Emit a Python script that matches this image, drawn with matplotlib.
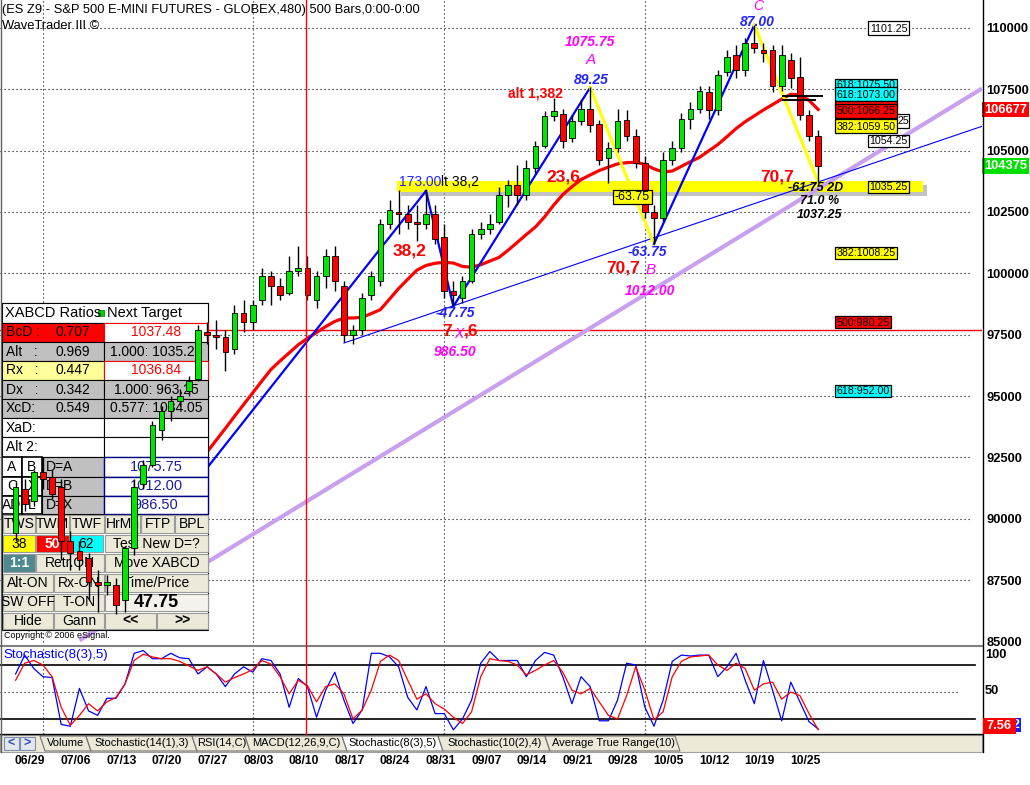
import matplotlib
matplotlib.use("Agg")
import matplotlib.pyplot as plt
from matplotlib.transforms import Affine2D, blended_transform_factory
from matplotlib.patches import Rectangle, Polygon
from matplotlib.lines import Line2D
import numpy as np

plt.rcParams['font.family'] = ['Liberation Sans', 'DejaVu Sans']

# ---------------- data ----------------
week_labels = ["06/29", "07/06", "07/13", "07/20", "07/27", "08/03", "08/10", "08/17", "08/24",
               "08/31", "09/07", "09/14", "09/21", "09/28", "10/05", "10/12", "10/19", "10/25"]
week_first_day = [1, 6, 11, 16, 21, 26, 31, 36, 41, 46, 51, 56, 61, 66, 71, 76, 81, 86]
month_first_day = [3, 26, 47, 69]

opens = [894, 912, 907, 919, 917, 913, 891, 887, 884, 874, 873, 873, 867, 888, 914, 922, 936, 944, 948, 952,
         957, 976, 975, 974, 969, 984, 980, 989, 999, 995, 992, 1001, 1002, 989, 999, 1007, 995, 975, 977, 991,
         997, 1020, 1025, 1024, 1021, 1020, 1024, 1015, 993, 990, 997, 1016, 1018, 1021, 1032, 1036, 1032, 1043, 1052, 1064,
         1065, 1055, 1062, 1067, 1061, 1047, 1051, 1062.5, 1056, 1045, 1025, 1022.5, 1046, 1051, 1063, 1067, 1074, 1066.5, 1082, 1089,
         1083, 1094, 1091, 1091, 1076.5, 1087, 1080, 1064.5, 1056]
highs = [915, 916, 920, 925, 920, 916, 895, 891, 886, 879, 877, 876, 889, 916, 924, 940, 946, 950, 953, 958,
         979, 980, 981, 977, 987, 989, 989, 1002, 1001, 998, 1007, 1011, 1007, 1001, 1010, 1011, 997, 979, 992, 1001,
         1022, 1030, 1034, 1028, 1028, 1033.6, 1028, 1020, 997, 999, 1018, 1021, 1024, 1035, 1038, 1044, 1046, 1054, 1066, 1071.5,
         1067, 1064.5, 1071, 1075.75, 1062.5, 1053.5, 1067, 1066.5, 1059, 1048, 1028, 1049.5, 1054, 1065.5, 1070, 1076.5, 1076.5, 1083, 1091, 1093,
         1096, 1101.25, 1094, 1093, 1093, 1090, 1088, 1066.5, 1058.5]
lows = [891, 903, 905, 912, 908, 883, 879, 879, 867, 862, 869, 861, 862, 885, 912, 921, 932, 940, 946, 950,
        956, 971, 969, 960, 967, 976, 977, 987, 987, 989, 991, 999, 989, 986, 994, 993, 972, 971, 975, 989,
        995, 1018, 1016, 1018, 1013, 1018, 1012, 990, 986.5, 988, 996, 1014, 1016, 1020, 1027, 1028, 1030, 1041, 1051, 1062,
        1051, 1053.5, 1060.5, 1057.5, 1044, 1037, 1049.5, 1054, 1043, 1022.5, 1012, 1021.5, 1044, 1049.5, 1059, 1065.5, 1063, 1064.5, 1080.5, 1079.5,
        1080.5, 1090, 1086, 1074, 1074.5, 1075.5, 1062.5, 1054, 1037.25]
closes = [913, 906, 919, 916, 910, 891, 886, 883, 874, 873, 874, 865, 888, 913, 922, 938, 944, 948, 950, 956,
          977, 975, 974, 968, 984, 980, 987, 999, 995, 991, 1001, 1002, 991, 999, 1007, 997, 975, 977, 990, 999,
          1020, 1026, 1024, 1021, 1020, 1024, 1014, 993, 991, 997, 1016, 1018, 1020, 1032, 1036, 1032, 1043, 1052, 1064, 1066,
          1054, 1062, 1067, 1060.5, 1046, 1051, 1062, 1056, 1045, 1025, 1022.5, 1046, 1051, 1063, 1067, 1074.5, 1066.5, 1081, 1088, 1083,
          1094, 1092, 1090, 1076.5, 1089, 1079.5, 1064.5, 1056, 1043.75]

ma_first_day = 21
ma_values = [927.2, 932.0, 936.8, 941.7, 946.5, 951.3, 956.1, 960.8, 964.3, 967.6,
             970.9, 973.5, 975.9, 978.3, 980.4, 981.8, 981.8, 982.1, 983.6, 985.2,
             989.5, 993.8, 997.6, 1001.3, 1003.2, 1004.1, 1004.5, 1004.2, 1002.8, 1002.5,
             1003.5, 1005.0, 1006.5, 1009.4, 1012.6, 1015.8, 1018.9, 1023.0, 1027.8, 1032.1,
             1035.3, 1038.2, 1040.1, 1041.9, 1043.3, 1044.6, 1045.1, 1045.3, 1044.4, 1042.6,
             1041.3, 1041.7, 1043.6, 1045.5, 1047.3, 1049.9, 1052.5, 1055.7, 1059.0, 1061.8,
             1064.2, 1066.6, 1068.8, 1071.0, 1073.0, 1072.7, 1070.5, 1066.8]
last_ma = 1066.77

pivot_days = [19, 45, 48, 63, 70, 81, 88]
pivot_prices = [911.3, 1033.6, 986.5, 1075.75, 1012.0, 1101.25, 1037.25]
leg_colors = ['#0000FF', '#0000FF', '#0000FF', '#FFFF00', '#0000FF', '#FFFF00']

trend_days = [36, 88]
trend_prices = [971.6, 1037.25]
channel_days = [11, 70]
channel_prices = [859.5, 993.6]
channel_start_day = 7
red_level = 976.9
band_level = 1035.25

stoch_k = [70, 91, 76, 67, 66, 14, 12, 54, 29, 24,
           43, 43, 59, 93, 96, 87, 87, 93, 88, 87,
           70, 78, 70, 56, 70, 78, 72, 87, 85, 70,
           33, 65, 56, 22, 52, 72, 41, 15, 30, 93,
           93, 89, 78, 44, 30, 56, 26, 26, 8, 20,
           41, 82, 95, 85, 85, 85, 67, 85, 94, 91,
           67, 37, 67, 56, 18, 18, 41, 82, 80, 33,
           12, 41, 84, 91, 90, 91, 91, 67, 78, 93,
           63, 37, 85, 52, 18, 61, 39, 17, 9]
stoch_d = [63, 82, 85, 80, 67, 33, 13, 24, 37, 29,
           39, 44, 59, 85, 92, 89, 87, 87, 84, 79,
           74, 78, 70, 61, 66, 70, 75, 85, 81, 67,
           48, 63, 57, 39, 56, 59, 48, 20, 30, 52,
           84, 91, 85, 63, 42, 48, 37, 31, 22, 15,
           28, 67, 87, 85, 84, 80, 69, 74, 80, 85,
           72, 52, 48, 54, 39, 24, 20, 46, 78, 52,
           19, 28, 67, 84, 89, 90, 91, 80, 74, 82,
           76, 52, 59, 61, 42, 50, 46, 26, 8]
stoch_last = "7.56"

price_ticks = [850, 875, 900, 925, 950, 975, 1000, 1025, 1050, 1075, 1100]

ratio_names = ["BcD :", "Alt   :", "Rx   :", "Dx   :", "XcD:", "XaD:", "Alt 2:"]
ratio_values = ["0.707", "0.969", "0.447", "0.342", "0.549", "", ""]
ratio_targets = ["1037.48", "1.000: 1035.25", "1036.84", "1.000: 963.25", "0.577: 1034.05", "", ""]
point_targets = ["1075.75", "1012.00", "986.50"]

# ---------------- figure / layout ----------------
W, H = 1030, 785
fig = plt.figure(figsize=(W / 100, H / 100), dpi=100)
fig.patch.set_facecolor('white')
T = Affine2D().scale(1.0 / W, -1.0 / H).translate(0, 1) + fig.transFigure

PX0, PXD = 15.6, 9.12
AX_R, MAIN_B, STO_B = 982, 646, 734
xl = ((0 - PX0) / PXD, (AX_R - PX0) / PXD)
P_TOP, P_PX = 1111.41, 0.4076

ax = fig.add_axes([0, 1 - MAIN_B / H, AX_R / W, MAIN_B / H])
ax.set_xlim(*xl)
ax.set_ylim(P_TOP - P_PX * MAIN_B, P_TOP)
for s in ax.spines.values():
    s.set_visible(False)
ax.set_xticks([])
ax.yaxis.tick_right()
ax.set_yticks(price_ticks)
ax.set_yticklabels([f"{int(round(v * 100))}" for v in price_ticks])
ax.tick_params(axis='y', length=0, pad=3, labelsize=9.3)
for lb in ax.get_yticklabels():
    lb.set_fontweight('bold')

ax_st = fig.add_axes([0, 1 - STO_B / H, AX_R / W, (STO_B - MAIN_B) / H])
ax_st.set_xlim(*xl)
ax_st.set_ylim(50 - (STO_B - 692) / 0.9, 50 + (692 - MAIN_B) / 0.9)
ax_st.axis('off')

x_grid_end = (970 - PX0) / PXD
dots = (0, (1, 2.6))

# grid
ax.hlines(price_ticks[1:], xl[0], x_grid_end, colors='black', linestyles=dots, lw=0.8, zorder=1)
for d in month_first_day:
    ax.axvline(d, color='black', ls=dots, lw=0.8, zorder=1)
    ax_st.axvline(d, color='black', ls=dots, lw=0.8, zorder=1)


def rect(axis, x0, y0, x1, y1, fc, ec='none', lw=0.8, z=3.0, **kw):
    axis.add_patch(Rectangle((x0, y0), x1 - x0, y1 - y0, transform=T, facecolor=fc,
                             edgecolor=ec, linewidth=lw, zorder=z, clip_on=False, **kw))


def ptxt(axis, x, y, s, z=3.2, **kw):
    kw.setdefault('va', 'center')
    kw.setdefault('fontsize', 9.5)
    axis.text(x, y, s, transform=T, zorder=z, clip_on=False, **kw)


# level band 1035.25 with shadow
rect(ax, 401, 185, 927, 196, '#909090', z=1.4, alpha=0.55)
rect(ax, 397, 181, 923, 192, '#FFFF00', z=1.5)

# red horizontal level
ax.axhline(red_level, color='#FF0000', lw=1.0, zorder=2)

# lavender channel line
sl = (channel_prices[1] - channel_prices[0]) / (channel_days[1] - channel_days[0])
xs = np.array([channel_start_day, xl[1]])
ax.plot(xs, channel_prices[0] + sl * (xs - channel_days[0]), color='#C9A0F0', lw=3.0, zorder=2.2,
        solid_capstyle='butt')

# thin blue trend line
sl = (trend_prices[1] - trend_prices[0]) / (trend_days[1] - trend_days[0])
xs = np.array([trend_days[0], xl[1]])
ax.plot(xs, trend_prices[0] + sl * (xs - trend_days[0]), color='#0000FF', lw=0.8, zorder=2.3)

# moving average
ax.plot(np.arange(ma_first_day, ma_first_day + len(ma_values)), ma_values, color='#FF0000', lw=2.3, zorder=2.4)

# XABCD legs
for i in range(len(pivot_days) - 1):
    ax.plot(pivot_days[i:i + 2], pivot_prices[i:i + 2], color=leg_colors[i],
            lw=1.6 if leg_colors[i] == '#0000FF' else 2.2, zorder=2.6)

# ---------------- left panel ----------------
rect(ax, 2, 303, 208, 630, 'white', ec='black', z=3.0)
rect(ax, 2, 303, 208, 323, 'white', ec='black', z=3.0)
ptxt(ax, 5, 313, 'XABCD Ratios', fontsize=10.5)
rect(ax, 98, 310, 104, 316, '#00D000', ec='#007000', lw=0.5, z=3.1)
ptxt(ax, 107, 313, 'Next Target', fontsize=10.5)

rows_y = [323, 342, 361, 380, 399, 418, 437, 457]
left_fc = ['#FF0000', '#C0C0C0', '#FFFF99', '#C0C0C0', '#C0C0C0', 'white', 'white']
right_fc = ['white', '#C0C0C0', 'white', '#C0C0C0', '#C0C0C0', 'white', 'white']
right_tc = ['#FF0000', 'black', '#FF0000', 'black', 'black', 'black', 'black']
for i in range(len(ratio_names)):
    y0, y1 = rows_y[i], rows_y[i + 1]
    ym = (y0 + y1) / 2
    rect(ax, 2, y0, 104, y1, left_fc[i], ec='black')
    rect(ax, 104, y0, 208, y1, right_fc[i], ec='#FF0000' if right_fc[i] == 'white' and i < 3 else 'black')
    ptxt(ax, 6, ym, ratio_names[i], fontsize=10)
    ptxt(ax, 56, ym, ratio_values[i], fontsize=10)
    ptxt(ax, 156, ym, ratio_targets[i], fontsize=10, ha='center', color=right_tc[i])

small_rows = [457, 477, 496, 514]
small_a = ['A', 'C', 'AD']
small_b = ['B', 'X', 'L']
small_c = ['D=A', 'D=B', 'D=X']
for i in range(3):
    y0, y1 = small_rows[i], small_rows[i + 1]
    ym = (y0 + y1) / 2
    rect(ax, 2, y0, 22, y1, 'white', ec='black', lw=1.2)
    rect(ax, 22, y0, 42, y1, 'white', ec='black', lw=1.2)
    rect(ax, 42, y0, 104, y1, '#C0C0C0', ec='black')
    rect(ax, 104, y0, 208, y1, 'white', ec='#000080', lw=1.0)
    ptxt(ax, 12, ym, small_a[i], fontsize=10, ha='center')
    ptxt(ax, 32, ym, small_b[i], fontsize=10, ha='center')
    ptxt(ax, 46, ym, small_c[i], fontsize=10)
    ptxt(ax, 156, ym, point_targets[i], fontsize=10.5, ha='center', color='#1C1C9C')

BE = '#ECE9D8'
buttons = [
    (514, 534, [(3, 35, 'TWS', BE, 'black'), (36, 69, 'TWM', BE, 'black'), (70, 104, 'TWF', BE, 'black'),
                (105, 140, 'HrMn', BE, 'black'), (141, 174, 'FTP', BE, 'black'), (175, 208, 'BPL', BE, 'black')]),
    (534, 553, [(3, 35, '38', '#FFFF00', 'black'), (36, 69, '50', '#FF0000', 'white'), (70, 103, '62', '#00FFFF', 'black'),
                (105, 208, 'Test New D=?', BE, 'black')]),
    (553, 573, [(3, 35, '1:1', '#4E8990', 'white'), (36, 104, 'Retr.ON', BE, 'black'), (105, 208, 'Move XABCD', BE, 'black')]),
    (573, 593, [(3, 53, 'Alt-ON', BE, 'black'), (54, 104, 'Rx-ON', BE, 'black'), (105, 208, 'Time/Price', BE, 'black')]),
    (593, 612, [(3, 53, 'SW OFF', BE, 'black'), (54, 104, 'T-ON', BE, 'black'), (105, 208, '47.75', '#F4F2EA', 'black')]),
    (612, 630, [(3, 53, 'Hide', BE, 'black'), (54, 104, 'Gann', BE, 'black'), (105, 156, '<<', BE, 'black'),
                (157, 208, '>>', BE, 'black')]),
]
for y0, y1, cells in buttons:
    for x0, x1, s, fc, tc in cells:
        rect(ax, x0, y0 + 1, x1, y1 - 1, fc, ec='#9A9A9A', lw=0.8)
        big = s == '47.75'
        ptxt(ax, (x0 + x1) / 2, (y0 + y1) / 2, s, fontsize=13 if big else 10, ha='center', color=tc,
             fontweight='bold' if (big or s in ('1:1', '50', '<<', '>>')) else 'normal')
ptxt(ax, 4, 636, 'Copyright \u00a9 2006 eSignal.', fontsize=6.5)

# ---------------- candles ----------------
days = np.arange(len(closes))
o = np.array(opens, float); c = np.array(closes, float)
h = np.array(highs, float); l = np.array(lows, float)
up = c >= o
ax.vlines(days, l, h, color='black', lw=1.0, zorder=5)
ax.bar(days, np.maximum(np.abs(c - o), 0.5), bottom=np.minimum(o, c), width=0.62,
       color=np.where(up, '#00E600', '#FF0000'), edgecolor='black', linewidth=0.6, zorder=5.5)

# small black marks near the C-D leg
ax.plot([(783 - PX0) / PXD, (822 - PX0) / PXD], [P_TOP - 96.5 * P_PX] * 2, color='black', lw=1.4, zorder=5.6)
ax.plot([(783 - PX0) / PXD, (815 - PX0) / PXD], [P_TOP - 100.5 * P_PX] * 2, color='black', lw=1.4, zorder=5.6)


# ---------------- chart annotations ----------------
def ftxt(x, y, s, **kw):
    kw.setdefault('va', 'center')
    kw.setdefault('ha', 'center')
    return fig.text(x, y, s, transform=T, **kw)


MAG, BLU, RED = '#FF00FF', '#2222FF', '#FF0000'
ftxt(2, 10, "(ES Z9 - S&P 500 E-MINI FUTURES - GLOBEX,480) 500 Bars,0:00-0:00", ha='left', fontsize=9.3)
ftxt(2, 26, "WaveTrader III \u00a9", ha='left', fontsize=9.3)

ftxt(590, 42, "1075.75", color=MAG, fontsize=10, style='italic', fontweight='bold')
ftxt(591, 60, "A", color=MAG, fontsize=11, style='italic')
ftxt(591, 80, "89.25", color=BLU, fontsize=10, style='italic', fontweight='bold')
ftxt(535, 93, "alt 1,382", color=RED, fontsize=10, fontweight='bold')
ftxt(758, 6, "C", color=MAG, fontsize=10, style='italic')
ftxt(757, 22, "87.00", color=BLU, fontsize=10, style='italic', fontweight='bold')
ftxt(563, 177, "23,6", color=RED, fontsize=12.5, fontweight='bold')
ftxt(410, 251, "38,2", color=RED, fontsize=12.5, fontweight='bold')
ftxt(777, 177, "70,7", color=RED, fontsize=12.5, fontweight='bold')
ftxt(623, 268, "70,7", color=RED, fontsize=12.5, fontweight='bold')
ftxt(651, 270, "B", color=MAG, fontsize=11, style='italic')
ftxt(650, 291, "1012.00", color=MAG, fontsize=10, style='italic', fontweight='bold')
ftxt(647, 252, "-63.75", color=BLU, fontsize=10, style='italic', fontweight='bold')
ftxt(455, 313, "-47.75", color=BLU, fontsize=10, style='italic', fontweight='bold')
ftxt(447, 331, "7", color=RED, fontsize=12.5, fontweight='bold')
ftxt(459, 334, "X", color=MAG, fontsize=10, style='italic')
ftxt(471, 331, ",6", color=RED, fontsize=12.5, fontweight='bold')
ftxt(455, 352, "986.50", color=MAG, fontsize=10, style='italic', fontweight='bold')
ftxt(441, 182, "173.00", color=BLU, fontsize=10, ha='right')
ftxt(441, 182, "lt 38,2", color='black', fontsize=10, ha='left')
ftxt(816, 188, "-61.75 2D", color='black', fontsize=9, style='italic', fontweight='bold')
ftxt(820, 201, "71.0 %", color='black', fontsize=9, style='italic', fontweight='bold')
ftxt(820, 215, "1037.25", color='black', fontsize=9, style='italic', fontweight='bold')

_z = [10.0]


def lbox(x0, y0, x1, y1, fc, s, tc='black', ec='black', fs=7.7, tx=None):
    _z[0] += 0.1
    fig.add_artist(Rectangle((x0, y0), x1 - x0, y1 - y0, transform=T, facecolor=fc, edgecolor=ec, lw=0.9,
                             zorder=_z[0]))
    _z[0] += 0.1
    ftxt((x0 + x1) / 2 if tx is None else tx, (y0 + y1) / 2 + 0.5, s, color=tc, fontsize=fs, zorder=_z[0])


lbox(613, 190, 652, 204, '#FFFF00', "-63.75", fs=9)
lbox(868, 21, 909, 35, 'white', "1101.25")
lbox(868, 114, 909, 128, 'white', "25", tx=903)
lbox(835, 79, 897, 91, '#00FFFF', "618:1075.50")
lbox(835, 87, 897, 101, '#00FFFF', "618:1073.00")
lbox(835, 101, 897, 108, '#FF0000', "")
lbox(835, 104, 897, 118, '#FF0000', "500:1066.25")
lbox(835, 119, 897, 133, '#FFFF00', "382:1059.50")
lbox(868, 135, 909, 147, 'white', "1054.25")
lbox(868, 181, 909, 193, '#FFFF00', "1035.25")
lbox(835, 247, 897, 259, '#FFFF00', "382:1008.25")
lbox(835, 316, 891, 328, '#FF0000', "500:980.25")
lbox(835, 385, 891, 397, '#00FFFF', "618:952.00")

# current value tags on price axis
bt = blended_transform_factory(T, ax.transData)
ax.text(984, last_ma, f"{int(round(last_ma * 100))}", transform=bt, clip_on=False, color='white',
        fontsize=9.3, fontweight='bold', va='center', ha='left', zorder=10,
        bbox=dict(boxstyle='square,pad=0.12', fc='#FF0000', ec='none'))
ax.text(984, closes[-1], f"{int(round(closes[-1] * 100))}", transform=bt, clip_on=False, color='white',
        fontsize=9.3, fontweight='bold', va='center', ha='left', zorder=10,
        bbox=dict(boxstyle='square,pad=0.12', fc='#00E000', ec='none'))

# ---------------- stochastic panel ----------------
ax_st.axhline(80, xmax=(975 / AX_R), color='black', lw=1.2, zorder=2)
ax_st.axhline(20, xmax=(975 / AX_R), color='black', lw=1.2, zorder=2)
ax_st.axhline(50, xmax=(960 / AX_R), color='black', ls=dots, lw=0.8, zorder=1)
sd = np.arange(len(stoch_k))
ax_st.plot(sd, stoch_k, color='#0000FF', lw=0.9, zorder=3)
ax_st.plot(sd, stoch_d, color='#FF0000', lw=0.9, zorder=3.1)
ftxt(3, 655, "Stochastic(8(3),5)", ha='left', color='#0000FF', fontsize=9.5)
ftxt(985, 655, "100", ha='left', fontsize=9.3, fontweight='bold')
ftxt(985, 691, "50", ha='left', fontsize=9.3, fontweight='bold')
fig.add_artist(Rectangle((1010, 718), 11, 14, transform=T, facecolor='#1A1AFF', edgecolor='none'))
ftxt(1016, 725, "2", color='white', fontsize=9, fontweight='bold')
fig.add_artist(Rectangle((983, 718), 33, 16, transform=T, facecolor='#FF0000', edgecolor='none', zorder=4))
ftxt(999, 726, stoch_last, color='white', fontsize=9.3, fontweight='bold', zorder=5)

# frame lines
fig.add_artist(Line2D([0, AX_R], [MAIN_B, MAIN_B], transform=T, color='#808080', lw=1.5))
fig.add_artist(Line2D([0, AX_R], [STO_B, STO_B], transform=T, color='black', lw=1.0))
fig.add_artist(Line2D([AX_R + 0.5, AX_R + 0.5], [0, 752], transform=T, color='black', lw=1.0))
fig.add_artist(Line2D([306, 306], [0, STO_B], transform=T, color='#FF0000', lw=1.0))
fig.add_artist(Line2D([0.5, 0.5], [0, 752], transform=T, color='#606060', lw=1.0))

# tab bar
fig.add_artist(Rectangle((0, 735), AX_R, 17, transform=T, facecolor=BE, edgecolor='#A0A0A0', lw=0.8))
for x0, s in [(4, '<'), (20, '>')]:
    fig.add_artist(Rectangle((x0, 737), 15, 13, transform=T, facecolor='#E4E6F0', edgecolor='#8090B0', lw=0.8))
    ftxt(x0 + 7.5, 743.5, s, color='#3050B0', fontsize=9, fontweight='bold')
tabs = [("Volume", 40, 86), ("Stochastic(14(1),3)", 86, 192), ("RSI(14,C)", 192, 245),
        ("MACD(12,26,9,C)", 245, 342), ("Stochastic(8(3),5)", 342, 438),
        ("Stochastic(10(2),4)", 438, 545), ("Average True Range(10)", 545, 675)]
for name, x0, x1 in tabs:
    sel = name == "Stochastic(8(3),5)"
    fig.add_artist(Polygon([(x0, 736), (x0 + 5, 751), (x1 + 5, 751), (x1, 736)], closed=True, transform=T,
                           facecolor='white' if sel else BE, edgecolor='#707070', lw=0.8))
    ftxt((x0 + x1) / 2 + 3, 743.5, name, fontsize=8)

# date labels
bx = blended_transform_factory(ax_st.transData, T)
for lab, d in zip(week_labels, week_first_day):
    ax_st.text(d + 0.6, 761, lab, transform=bx, clip_on=False, ha='center', va='center',
               fontsize=8.7, fontweight='bold')

fig.savefig('out.png', dpi=100)
